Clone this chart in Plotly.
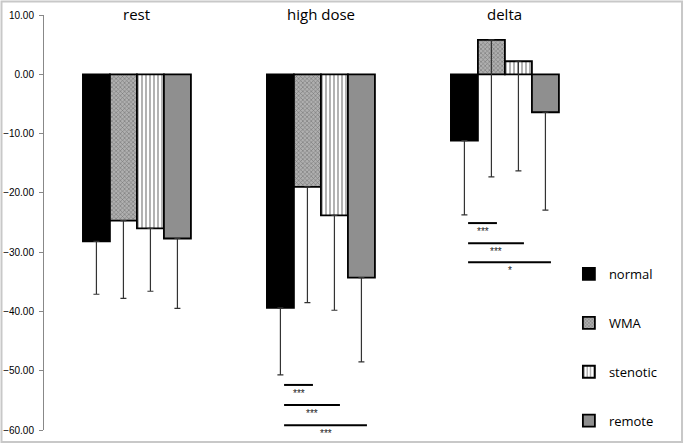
import plotly.graph_objects as go

groups = ["rest", "high dose", "delta"]
series = ["normal", "WMA", "stenotic", "remote"]
values = {
    "normal":   [-28.2, -39.4, -11.2],
    "WMA":      [-24.7, -19.0, 5.8],
    "stenotic": [-26.0, -23.8, 2.2],
    "remote":   [-27.7, -34.3, -6.4],
}
errors = {
    "normal":   [8.9, 11.3, 12.5],
    "WMA":      [13.1, 19.5, 23.1],
    "stenotic": [10.6, 16.0, 18.5],
    "remote":   [11.8, 14.2, 16.5],
}
# significance brackets: (group index, compared series index, y level, label)
sig_group = [1, 1, 1, 2, 2, 2]
sig_target = [1, 2, 3, 1, 2, 3]
sig_y = [-52.4, -55.8, -59.2, -25.1, -28.5, -31.7]
sig_label = ["***", "***", "***", "***", "***", "*"]

y_ticks = [10, 0, -10, -20, -30, -40, -50, -60]

styles = {
    "normal":   dict(color="#000000", pattern=dict(shape="")),
    "WMA":      dict(color="#9a9a9a", pattern=dict(shape="x", size=3, solidity=0.35, fgcolor="#3a3a3a", bgcolor="#b0b0b0")),
    "stenotic": dict(color="#ffffff", pattern=dict(shape="|", size=4, solidity=0.3, fgcolor="#000000", bgcolor="#ffffff")),
    "remote":   dict(color="#8f8f8f", pattern=dict(shape="")),
}

xpos = list(range(len(groups)))
fig = go.Figure()
for i, s in enumerate(series):
    st = styles[s]
    fig.add_trace(go.Bar(
        x=xpos, y=values[s], name=s, legendgroup=s,
        marker=dict(color=st["color"], pattern=st["pattern"],
                    line=dict(color="#000000", width=1.8)),
        error_y=dict(type="data", symmetric=False, array=[0]*len(groups),
                     arrayminus=errors[s], color="#333333", thickness=1.2, width=3),
    ))

bargap = 0.413
group_w = 1 - bargap
bar_w = group_w / len(series)

def center(g, k):
    return g - group_w / 2 + bar_w * (k + 0.5)

shapes = []
annotations = []
for g, k, yv, lab in zip(sig_group, sig_target, sig_y, sig_label):
    x0 = center(g, 0) + 0.02
    x1 = center(g, k) + 0.03
    shapes.append(dict(type="line", xref="x", yref="y", x0=x0, x1=x1, y0=yv, y1=yv,
                       line=dict(color="#000000", width=2)))
    annotations.append(dict(x=(x0 + x1) / 2, y=yv, xref="x", yref="y", text=lab,
                            showarrow=False, yanchor="top", yshift=-1,
                            font=dict(size=10, color="#222222", family="Liberation Sans")))

for g, name in enumerate(groups):
    annotations.append(dict(x=g, y=1, xref="x", yref="paper", text=name, showarrow=False,
                            yanchor="middle", yshift=1,
                            font=dict(size=15, color="#000000", family="Open Sans")))

# outer frame
shapes.append(dict(type="rect", xref="paper", yref="paper",
                   x0=-0.0667, x1=1.0016, y0=-0.029, y1=1.0325,
                   line=dict(color="#c8c8c8", width=2), layer="below"))

fig.update_layout(
    width=685, height=445,
    margin=dict(l=44, r=4, t=15, b=15),
    paper_bgcolor="white", plot_bgcolor="white",
    barmode="group", bargap=bargap, bargroupgap=0,
    shapes=shapes, annotations=annotations,
    showlegend=True,
    legend=dict(x=0.824, y=0.412, xanchor="left", yanchor="top",
                tracegroupgap=29, font=dict(size=13, family="Open Sans", color="#000"),
                bgcolor="rgba(0,0,0,0)"),
    font=dict(family="Liberation Sans"),
)
fig.update_xaxes(range=[-0.505, 2.957], visible=False, fixedrange=True)
fig.update_yaxes(range=[-60, 10], tickvals=y_ticks, tickformat=".2f",
                 ticks="outside", ticklen=4, tickcolor="#888888",
                 showline=True, linecolor="#888888", linewidth=1,
                 showgrid=False, zeroline=False, ticklabelstandoff=3,
                 tickfont=dict(size=10, color="#000000", family="Liberation Sans"))

fig.write_html("out.html", config={"displayModeBar": False},
               post_script="document.body.style.margin='0';document.body.style.overflow='hidden';")
